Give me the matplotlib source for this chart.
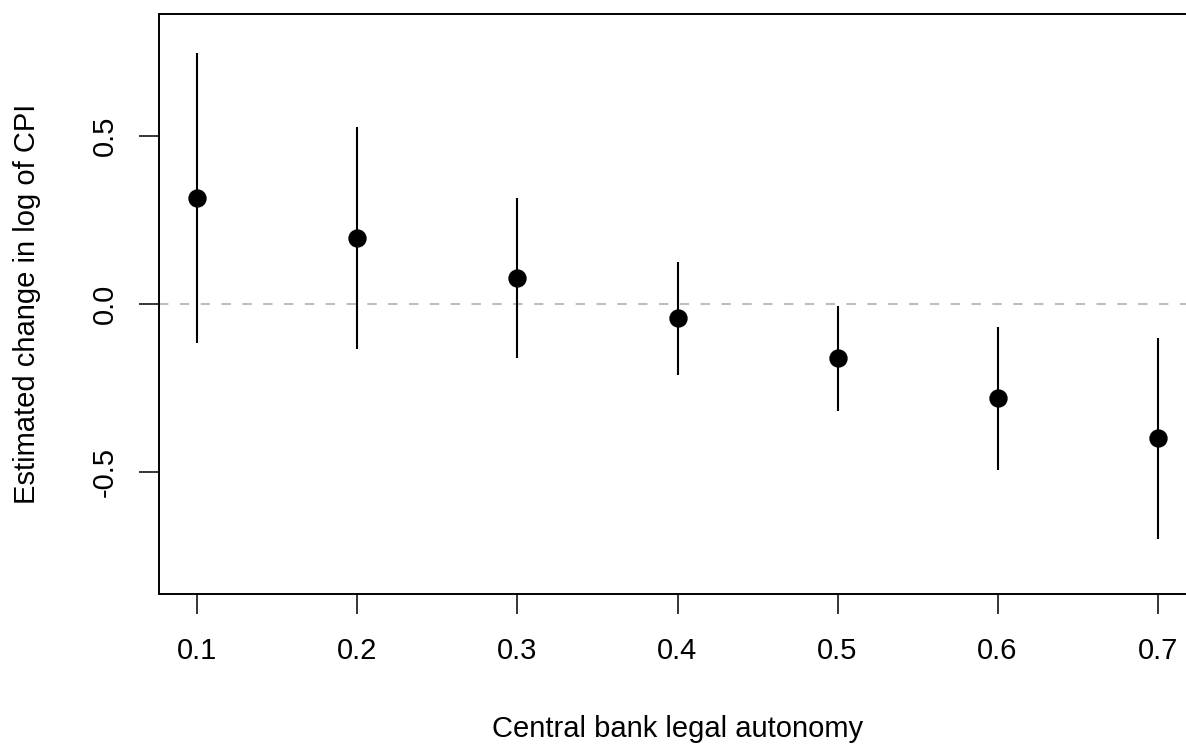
import matplotlib
matplotlib.use("Agg")
import matplotlib.pyplot as plt

# Point estimates and interval ends for each level of legal autonomy.
autonomy = [0.1, 0.2, 0.3, 0.4, 0.5, 0.6, 0.7]
estimate = [0.316, 0.196, 0.076, -0.042, -0.161, -0.281, -0.400]
lower = [-0.116, -0.135, -0.162, -0.211, -0.319, -0.495, -0.701]
upper = [0.748, 0.527, 0.315, 0.126, -0.005, -0.068, -0.100]

y_ticks = [-0.5, 0.0, 0.5]
y_tick_labels = ["-0.5", "0.0", "0.5"]

W, H, DPI = 1186, 746, 100
FS = 21
plt.rcParams["font.family"] = ["Liberation Sans", "DejaVu Sans"]

fig = plt.figure(figsize=(W / DPI, H / DPI), dpi=DPI)
# plot region in pixels: left 159, right 1196 (runs past the edge), top 14, bottom 594
L, R, T, B = 159, 1196, 14, 594
ax = fig.add_axes([L / W, (H - B) / H, (R - L) / W, (B - T) / H])

ax.axhline(0, color="#BEBEBE", lw=1.5, dashes=(4.5, 5.5), zorder=1)
ax.vlines(autonomy, lower, upper, color="black", lw=1.5, zorder=2)
ax.plot(autonomy, estimate, "o", color="black", ms=12.2, zorder=3)

span_x = max(autonomy) - min(autonomy)
ax.set_xlim(min(autonomy) - 0.04 * span_x, max(autonomy) + 0.04 * span_x)
ax.set_ylim(-0.8 - 0.064, 0.8 + 0.064)

ax.set_xticks(autonomy)
ax.set_xticklabels([f"{v:.1f}" for v in autonomy])
ax.set_yticks(y_ticks)
ax.set_yticklabels(y_tick_labels, rotation=90, va="center")

ax.tick_params(axis="both", length=14.4, width=1.1, labelsize=FS, direction="out")
ax.tick_params(axis="x", pad=16.5)
ax.tick_params(axis="y", pad=14.4)
for s in ax.spines.values():
    s.set_linewidth(1.4)

ax.set_xlabel("Central bank legal autonomy", fontsize=FS)
ax.set_ylabel("Estimated change in log of CPI", fontsize=FS)
ax.xaxis.set_label_coords(0.5, -(715 - B) / (B - T))
ax.yaxis.set_label_coords(-(L - 41) / (R - L), 0.5)

fig.savefig("out.png", dpi=DPI)
